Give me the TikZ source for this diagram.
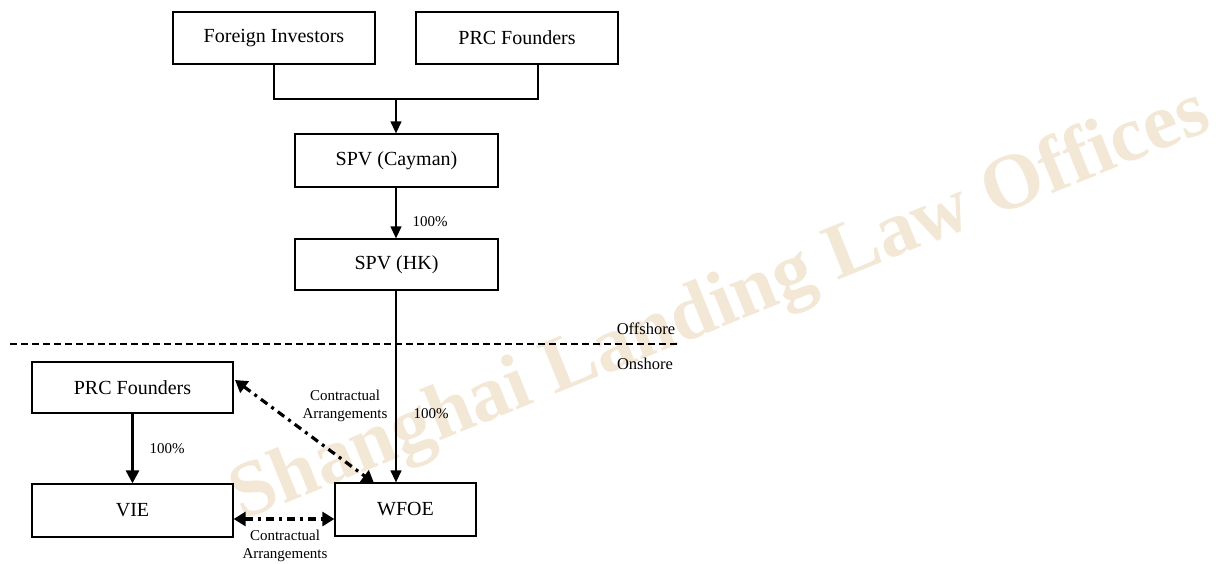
\documentclass[tikz,border=0pt]{standalone}
\usepackage{fontspec}
\setmainfont{Liberation Serif}
\usetikzlibrary{arrows.meta,calc}
\definecolor{wm}{RGB}{243,231,214}
\tikzset{
  box/.style={draw, line width=1.3pt, rectangle, inner sep=0pt, font=\fontsize{20}{22}\selectfont},
  own/.style={line width=1.3pt, -{Triangle[length=12pt,width=11pt]}},
  ownthick/.style={line width=3pt, -{Triangle[length=13pt,width=13pt]}},
  contract/.style={line width=3.2pt, dash pattern=on 8pt off 5pt on 3pt off 5pt,
     {Triangle[length=12pt,width=14pt]}-{Triangle[length=12pt,width=14pt]}},
  lbl/.style={font=\fontsize{15}{18}\selectfont, inner sep=0pt, align=center},
  zone/.style={font=\fontsize{16.5}{18}\selectfont, inner sep=0pt},
}
\begin{document}
\begin{tikzpicture}[x=1pt,y=-1pt]
\useasboundingbox (0,0) rectangle (1216,563);
% watermark
\node[text=wm, font=\fontsize{79}{90}\selectfont\bfseries, rotate=22, inner sep=0pt] (wmk) at (721,307) {Shanghai Landing Law Offices};
% boxes
\node[box, minimum width=202pt, minimum height=52pt] (fi) at (274,38) {Foreign Investors};
\node[box, minimum width=202pt, minimum height=52pt] (prct) at (517,38) {PRC Founders};
\node[box, minimum width=203pt, minimum height=53pt] (spvc) at (396.5,160.5) {SPV (Cayman)};
\node[box, minimum width=203pt, minimum height=51pt] (spvh) at (396.5,264.5) {SPV (HK)};
\node[box, minimum width=201pt, minimum height=51pt] (prcb) at (132.5,387.5) {PRC Founders};
\node[box, minimum width=201pt, minimum height=53pt] (vie) at (132.5,510.5) {VIE};
\node[box, minimum width=141pt, minimum height=53pt] (wfoe) at (405.5,509.5) {WFOE};
% top connector
\coordinate (j) at (396,99);
\coordinate (prcfoot) at ([xshift=21pt]prct.south);
\draw[line width=1.3pt] (fi.south) |- (prcfoot |- j) -- (prcfoot);
\draw[own] (j) -- (spvc.north -| j);
\draw[own] (spvc.south -| j) -- (spvh.north -| j);
\node[lbl] (p1) at (430,222) {100\%};
\draw[own] (spvh.south -| j) -- (wfoe.north -| j);
\node[lbl] (p2) at (431,414) {100\%};
% offshore / onshore
\coordinate (dl) at (10,344);
\coordinate (dr) at (680,344);
\draw[line width=1.3pt, dash pattern=on 7pt off 4pt] (dl) -- (dr);
\node[zone] (off) at (646,329) {Offshore};
\node[zone] (on) at (645,364) {Onshore};
% onshore structure
\draw[ownthick] (prcb.south) -- (vie.north);
\node[lbl] (p3) at (167,449) {100\%};
\coordinate (d1) at (235,380);
\coordinate (d2) at (374,483);
\draw[contract] (d1) -- (d2);
\node[lbl] (c1) at (345,406) {Contractual\\Arrangements};
\draw[contract] (vie.east |- 0,519) -- (wfoe.west |- 0,519);
\node[lbl] (c2) at (285,546) {Contractual\\Arrangements};
\end{tikzpicture}
\end{document}
